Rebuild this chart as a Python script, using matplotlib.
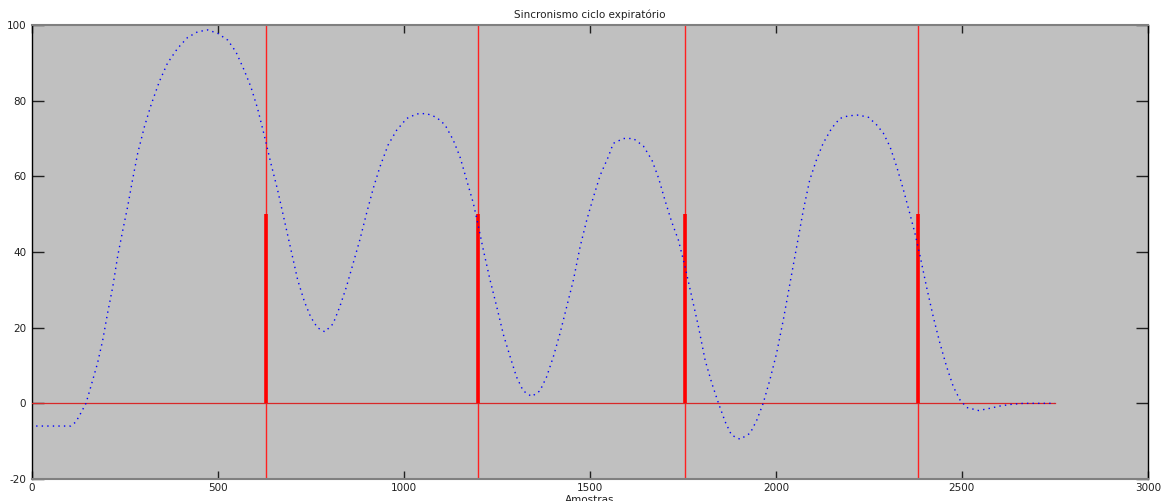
import matplotlib
matplotlib.use("Agg")
import matplotlib.pyplot as plt

# Breathing signal samples (x = sample index, y = value)
sig_x = [12, 40, 70, 105, 119, 132, 146, 159, 177, 191, 204, 218, 231, 245, 258, 271, 285, 303, 321, 343,
         365, 392, 419, 446, 473, 500, 527, 549, 571, 589, 607, 625, 643, 661, 679, 697, 715, 733, 750, 768,
         788, 810, 828, 846, 864, 882, 900, 918, 936, 958, 981, 1008, 1035, 1061, 1088, 1111, 1133, 1151, 1169, 1187,
         1200, 1214, 1232, 1250, 1268, 1286, 1303, 1321, 1344, 1366, 1384, 1402, 1420, 1438, 1456, 1474, 1492, 1510, 1528, 1550,
         1563, 1590, 1617, 1644, 1667, 1685, 1702, 1720, 1738, 1756, 1774, 1792, 1810, 1828, 1846, 1864, 1881, 1904, 1931, 1949,
         1966, 1984, 2002, 2020, 2038, 2056, 2074, 2091, 2109, 2127, 2150, 2172, 2195, 2222, 2249, 2271, 2289, 2307, 2325, 2343,
         2360, 2374, 2388, 2405, 2423, 2441, 2459, 2477, 2495, 2513, 2545, 2576, 2603, 2630, 2666, 2710, 2750]
sig_y = [-6.0, -6.0, -6.0, -6.0, -4.9, -2.6, 0.0, 4.4, 10.6, 16.7, 23.8, 30.8, 38.8, 45.8, 52.0, 59.0, 66.1, 73.1, 78.9, 85.0,
         89.9, 93.8, 96.7, 98.2, 98.7, 97.8, 96.0, 92.9, 88.1, 83.7, 78.0, 70.9, 63.4, 56.4, 48.5, 40.5, 32.6, 26.9, 22.8, 20.0,
         18.9, 21.0, 25.5, 30.8, 37.0, 43.2, 50.2, 56.8, 62.5, 68.3, 72.2, 75.3, 76.5, 76.6, 75.6, 73.6, 69.6, 65.2, 59.0, 52.9,
         47.1, 40.5, 32.6, 25.5, 18.1, 12.3, 7.0, 3.3, 1.8, 3.3, 7.0, 12.3, 18.5, 25.5, 32.6, 41.4, 48.5, 54.6, 60.3, 65.2,
         68.7, 70.0, 70.0, 68.0, 64.3, 59.5, 53.7, 48.0, 43.2, 36.1, 28.2, 20.3, 11.4, 5.3, 0.0, -4.9, -8.4, -9.5, -7.9, -4.4,
         0.0, 6.2, 13.2, 22.0, 31.7, 41.4, 51.1, 59.0, 64.3, 68.7, 72.7, 75.3, 76.0, 76.2, 75.6, 73.6, 71.4, 67.8, 62.5, 56.4,
         50.2, 44.9, 38.8, 30.8, 22.9, 15.9, 9.7, 4.4, 0.9, -1.1, -1.9, -1.3, -0.7, -0.3, 0.0, 0.0, 0.0]

# Detected expiratory-cycle sync events
event_x = [630, 1200, 1757, 2383]
event_height = 50
marker_start, marker_end = 0, 2750

title = "Sincronismo ciclo expiratório"
xlabel = "Amostras"
xticks = [0, 500, 1000, 1500, 2000, 2500, 3000]
yticks = [-20, 0, 20, 40, 60, 80, 100]

plt.rcParams['font.family'] = ['DejaVu Sans']
plt.rcParams['axes.unicode_minus'] = False

fig = plt.figure(figsize=(11.68, 5.01), dpi=100)
ax = fig.add_axes([0.0271, 0.0439, 0.9557, 0.9062])
ax.set_facecolor('#c0c0c0')

# full-height event lines
for ex in event_x:
    ax.axvline(ex, color='#ff2020', lw=1.0, zorder=2)
# marker signal: zero baseline with stems
ax.plot([marker_start, marker_end], [0, 0], color='#d82828', lw=0.9, zorder=3)
ax.vlines(event_x, 0, event_height, color='#ff0000', lw=2.6, zorder=3)

ax.plot(sig_x, sig_y, color='#0000ff', lw=1.0, linestyle=(0, (1.0, 3.0)), zorder=4)

ax.set_xlim(0, 3000)
ax.set_ylim(-20, 100)
ax.set_xticks(xticks)
ax.set_yticks(yticks)
ax.tick_params(axis='both', direction='in', labelsize=7.5, colors='#202020',
               top=True, right=True, width=1.0)
ax.tick_params(axis='x', length=6, pad=3)
ax.tick_params(axis='y', length=8.5, pad=4)

for side in ['top', 'bottom']:
    ax.spines[side].set_color('#808080')
    ax.spines[side].set_linewidth(1.5)
for side in ['left', 'right']:
    ax.spines[side].set_color('#000000')
    ax.spines[side].set_linewidth(1.0)

ax.set_title(title, fontsize=7.5, pad=5, color='#202020')
ax.set_xlabel(xlabel, fontsize=7.5, labelpad=1, color='#202020')

fig.savefig('out.png', dpi=100)
